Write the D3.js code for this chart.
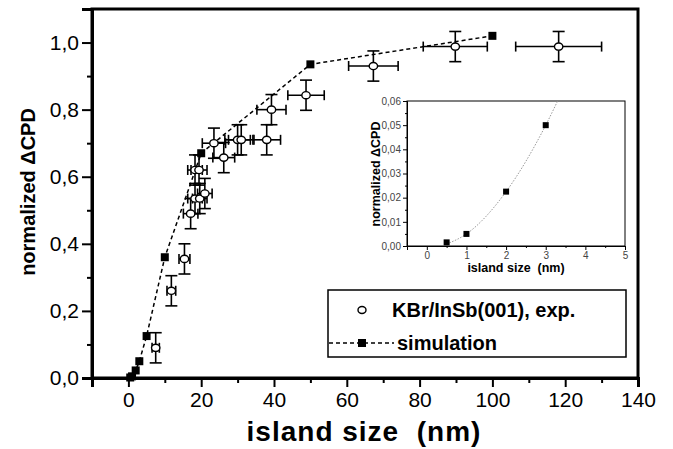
<!DOCTYPE html>
<html>
<head>
<meta charset="utf-8">
<script src="https://cdn.jsdelivr.net/npm/d3@7"></script>
<style>
  body { margin: 0; background: #fff; }
  svg { display: block; font-family: "Liberation Sans", Arial, sans-serif; }
  text { white-space: pre; }
</style>
</head>
<body>
<div id="chart"></div>
<script>
// experimental points: island size (nm), normalized dCPD, x error, y error
const expX    = [7.5, 11.8, 15.4, 17.1, 18.3, 19.6, 21.0, 18.3, 19.4, 23.5, 26.2, 30.0, 31.0, 38.0, 39.3, 48.8, 67.3, 89.8, 118.2];
const expY    = [0.09, 0.26, 0.355, 0.49, 0.535, 0.535, 0.55, 0.62, 0.62, 0.70, 0.657, 0.71, 0.71, 0.71, 0.80, 0.843, 0.93, 0.988, 0.988];
const expXErr = [1, 1.2, 1.5, 2, 2, 2, 2, 2, 2.2, 3.2, 3, 3.5, 3.5, 3.8, 4, 5, 6.8, 8.8, 11.8];
const expYErr = [0.045, 0.045, 0.045, 0.045, 0.045, 0.045, 0.045, 0.045, 0.045, 0.045, 0.045, 0.045, 0.045, 0.045, 0.045, 0.045, 0.045, 0.045, 0.045];

// simulation
const simX = [0, 0.5, 1, 2, 3, 5, 10, 20, 50, 100];
const simY = [0, 0.0015, 0.005, 0.0225, 0.05, 0.125, 0.36, 0.67, 0.935, 1.02];

// inset fit curve
const fitX = [0.5, 1, 2, 3, 3.3];
const fitY = [0.0008, 0.005, 0.0225, 0.05, 0.06];

const xTicks = [0, 20, 40, 60, 80, 100, 120, 140];
const yTicks = [0, 0.2, 0.4, 0.6, 0.8, 1.0];
const insetXTicks = [0, 1, 2, 3, 4, 5];
const insetYTicks = [0, 0.01, 0.02, 0.03, 0.04, 0.05, 0.06];

const fmt = d3.format(".1f"), fmt2 = d3.format(".2f");
const comma = f => v => f(v).replace(".", ",");

const W = 673, H = 449;
const svg = d3.select("#chart").append("svg").attr("width", W).attr("height", H);

// main scales
const x = d3.scaleLinear().domain([-10, 140]).range([92, 638]);
const y = d3.scaleLinear().domain([0, 1.1]).range([378, 9]);

// frame
svg.append("rect")
   .attr("x", x.range()[0]).attr("y", y.range()[1])
   .attr("width", x.range()[1] - x.range()[0])
   .attr("height", y.range()[0] - y.range()[1])
   .attr("fill", "none").attr("stroke", "#000").attr("stroke-width", 3);

// minor ticks
svg.append("g").attr("transform", `translate(0,${y(0)})`)
   .call(d3.axisBottom(x).tickValues(d3.range(-10, 140, 20)).tickSize(5).tickFormat(""))
   .call(g => g.select(".domain").remove())
   .selectAll("line").attr("stroke-width", 2);
svg.append("g").attr("transform", `translate(${x(-10)},0)`)
   .call(d3.axisLeft(y).tickValues([0.1, 0.3, 0.5, 0.7, 0.9]).tickSize(5).tickFormat(""))
   .call(g => g.select(".domain").remove())
   .selectAll("line").attr("stroke-width", 2);

// major axes
const xAxis = svg.append("g").attr("transform", `translate(0,${y(0)})`)
   .call(d3.axisBottom(x).tickValues(xTicks).tickSize(9).tickPadding(5).tickFormat(d3.format("d")));
xAxis.select(".domain").attr("stroke-width", 3);
xAxis.selectAll("line").attr("stroke-width", 2);
xAxis.selectAll("text").attr("font-size", 21).attr("fill", "#000");

const yAxis = svg.append("g").attr("transform", `translate(${x(-10)},0)`)
   .call(d3.axisLeft(y).tickValues(yTicks).tickSize(10).tickPadding(3).tickFormat(comma(fmt)));
yAxis.select(".domain").attr("stroke-width", 3);
yAxis.selectAll("line").attr("stroke-width", 2);
yAxis.selectAll("text").attr("font-size", 21).attr("fill", "#000");

// axis titles
svg.append("text").attr("x", 364).attr("y", 441).attr("text-anchor", "middle")
   .attr("font-size", 28).attr("font-weight", "bold").attr("letter-spacing", 1)
   .text("island size  (nm)");
svg.append("text").attr("transform", "translate(35,192) rotate(-90)")
   .attr("text-anchor", "middle").attr("font-size", 20).attr("font-weight", "bold")
   .text("normalized \u0394CPD");

// simulation dashed line
const simData = simX.map((v, i) => [v, simY[i]]);
svg.append("path").datum(simData)
   .attr("d", d3.line().x(d => x(d[0])).y(d => y(d[1])))
   .attr("fill", "none").attr("stroke", "#000").attr("stroke-width", 1.5)
   .attr("stroke-dasharray", "4,3");

// experimental error bars + markers
const expData = expX.map((v, i) => ({x: v, y: expY[i], ex: expXErr[i], ey: expYErr[i]}));
const eb = svg.append("g").attr("stroke", "#000").attr("stroke-width", 1.6);
expData.forEach(d => {
  const cx = x(d.x), cy = y(d.y);
  const x0 = x(d.x - d.ex), x1 = x(d.x + d.ex), y0 = y(d.y - d.ey), y1 = y(d.y + d.ey);
  eb.append("line").attr("x1", x0).attr("x2", x1).attr("y1", cy).attr("y2", cy);
  eb.append("line").attr("x1", x0).attr("x2", x0).attr("y1", cy - 5).attr("y2", cy + 5);
  eb.append("line").attr("x1", x1).attr("x2", x1).attr("y1", cy - 5).attr("y2", cy + 5);
  eb.append("line").attr("x1", cx).attr("x2", cx).attr("y1", y0).attr("y2", y1);
  eb.append("line").attr("x1", cx - 6).attr("x2", cx + 6).attr("y1", y0).attr("y2", y0);
  eb.append("line").attr("x1", cx - 6).attr("x2", cx + 6).attr("y1", y1).attr("y2", y1);
});
svg.selectAll(".exp").data(expData).enter().append("ellipse")
   .attr("class", "exp")
   .attr("cx", d => x(d.x)).attr("cy", d => y(d.y))
   .attr("rx", 4.2).attr("ry", 3.6)
   .attr("fill", "#fff").attr("stroke", "#000").attr("stroke-width", 1.4);

// simulation squares
svg.selectAll(".sim").data(simData.filter(d => d[0] > 0)).enter().append("rect")
   .attr("class", "sim")
   .attr("x", d => x(d[0]) - 4).attr("y", d => y(d[1]) - 4)
   .attr("width", 8).attr("height", 8).attr("fill", "#000");

// legend
const lg = svg.append("g");
lg.append("rect").attr("x", 328).attr("y", 290).attr("width", 298).attr("height", 67)
  .attr("fill", "#fff").attr("stroke", "#000").attr("stroke-width", 1.5);
lg.append("ellipse").attr("cx", 362).attr("cy", 310).attr("rx", 4).attr("ry", 3.5)
  .attr("fill", "#fff").attr("stroke", "#000").attr("stroke-width", 1.4);
lg.append("text").attr("x", 392).attr("y", 317).attr("font-size", 20).attr("font-weight", "bold")
  .text("KBr/InSb(001), exp.");
lg.append("line").attr("x1", 329).attr("x2", 394).attr("y1", 343).attr("y2", 343)
  .attr("stroke", "#000").attr("stroke-width", 1.5).attr("stroke-dasharray", "4,3");
lg.append("rect").attr("x", 358).attr("y", 339).attr("width", 8).attr("height", 8).attr("fill", "#000");
lg.append("text").attr("x", 397).attr("y", 350).attr("font-size", 20).attr("font-weight", "bold")
  .text("simulation");

// inset
const ix = d3.scaleLinear().domain([-0.5, 5]).range([407, 625]);
const iy = d3.scaleLinear().domain([0, 0.06]).range([246, 101]);
const inset = svg.append("g");
inset.append("rect").attr("x", 407).attr("y", 101).attr("width", 218).attr("height", 145)
  .attr("fill", "#fff").attr("stroke", "#000").attr("stroke-width", 1);

inset.append("g").attr("transform", `translate(0,${iy(0)})`)
  .call(d3.axisBottom(ix).tickValues([0.5, 1.5, 2.5, 3.5, 4.5]).tickSize(2).tickFormat(""))
  .call(g => g.select(".domain").remove());
inset.append("g").attr("transform", `translate(${ix(-0.5)},0)`)
  .call(d3.axisLeft(iy).tickValues([0.005, 0.015, 0.025, 0.035, 0.045, 0.055]).tickSize(2).tickFormat(""))
  .call(g => g.select(".domain").remove());

const ixa = inset.append("g").attr("transform", `translate(0,${iy(0)})`)
  .call(d3.axisBottom(ix).tickValues(insetXTicks).tickSize(4).tickPadding(2).tickFormat(d3.format("d")));
const iya = inset.append("g").attr("transform", `translate(${ix(-0.5)},0)`)
  .call(d3.axisLeft(iy).tickValues(insetYTicks).tickSize(4).tickPadding(2).tickFormat(comma(fmt2)));
[ixa, iya].forEach(a => {
  a.selectAll("text").attr("font-size", 10).attr("fill", "#444");
  a.select(".domain").attr("stroke-width", 1);
});

inset.append("text").attr("x", 516).attr("y", 272).attr("text-anchor", "middle")
  .attr("font-size", 12.5).attr("font-weight", "bold").text("island size  (nm)");
inset.append("text").attr("transform", "translate(380,174) rotate(-90)")
  .attr("text-anchor", "middle").attr("font-size", 12.5).attr("font-weight", "bold")
  .text("normalized \u0394CPD");

const fitData = fitX.map((v, i) => [v, fitY[i]]);
inset.append("path").datum(fitData)
  .attr("d", d3.line().curve(d3.curveMonotoneX).x(d => ix(d[0])).y(d => iy(d[1])))
  .attr("fill", "none").attr("stroke", "#999").attr("stroke-width", 1).attr("stroke-dasharray", "1.5,1.5");

const insetSim = simData.filter(d => d[0] > 0 && d[0] <= 5);
inset.selectAll(".isim").data(insetSim).enter().append("rect")
  .attr("class", "isim")
  .attr("x", d => ix(d[0]) - 3).attr("y", d => iy(d[1]) - 3)
  .attr("width", 6).attr("height", 6).attr("fill", "#000");
</script>
</body>
</html>
